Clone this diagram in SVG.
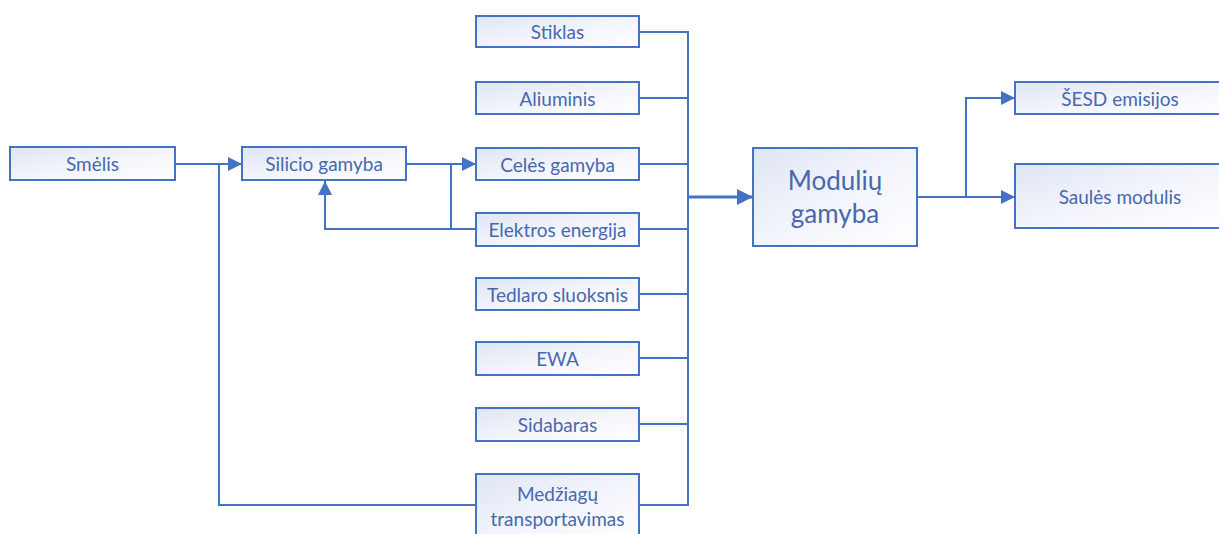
<svg xmlns="http://www.w3.org/2000/svg" width="1219" height="534" viewBox="0 0 1219 534">
  <defs>
    <linearGradient id="boxFill" x1="0" y1="0" x2="1" y2="1">
      <stop offset="0" stop-color="#dfe5f4"/>
      <stop offset="0.55" stop-color="#f4f6fc"/>
      <stop offset="1" stop-color="#ffffff"/>
    </linearGradient>
    <marker id="arrow" viewBox="0 0 14 14" refX="14" refY="7" markerWidth="14" markerHeight="14" markerUnits="userSpaceOnUse" orient="auto">
      <path d="M0,0 L14,7 L0,14 Z" fill="#4472c4"/>
    </marker>
    <marker id="arrowBig" viewBox="0 0 16 16" refX="16" refY="8" markerWidth="16" markerHeight="16" markerUnits="userSpaceOnUse" orient="auto">
      <path d="M0,0 L16,8 L0,16 Z" fill="#4472c4"/>
    </marker>
  </defs>
  <style>
    .box { fill: url(#boxFill); stroke: #4472c4; stroke-width: 2; }
    .lbl { font-family: Lato, "Open Sans", "Liberation Sans", sans-serif; font-size: 19px; fill: #4768ad; text-anchor: middle; dominant-baseline: central; }
    .big { font-size: 26px; }
    .wire { fill: none; stroke: #4472c4; stroke-width: 2; }
    .bus { fill: none; stroke: #4472c4; stroke-width: 3; }
  </style>
  <rect width="1219" height="534" fill="#ffffff"/>

  <!-- connectors -->
  <g id="connectors">
    <!-- Smėlis to Silicio gamyba, with feed from transport -->
    <path class="wire" d="M175,164 H242" marker-end="url(#arrow)"/>
    <path class="wire" d="M219,164 V505 H476"/>
    <!-- Silicio gamyba to Celės gamyba -->
    <path class="wire" d="M406,164 H476" marker-end="url(#arrow)"/>
    <path class="wire" d="M451,164 V229"/>
    <!-- Elektros energija back to Silicio gamyba -->
    <path class="wire" d="M476,229 H325 V181" marker-end="url(#arrow)"/>
    <!-- inputs collected onto the bus -->
    <path class="wire" d="M639,32 H688 V505 H639"/>
    <path class="wire" d="M639,98 H688"/>
    <path class="wire" d="M639,164 H688"/>
    <path class="wire" d="M639,229 H688"/>
    <path class="wire" d="M639,294 H688"/>
    <path class="wire" d="M639,358 H688"/>
    <path class="wire" d="M639,424 H688"/>
    <path class="bus" d="M688,197 H753" marker-end="url(#arrowBig)"/>
    <!-- outputs of module production -->
    <path class="wire" d="M917,197 H1015" marker-end="url(#arrow)"/>
    <path class="wire" d="M966,197 V98 H1015" marker-end="url(#arrow)"/>
  </g>

  <g id="smelis">
    <rect class="box" x="10" y="147" width="165" height="33"/>
    <text class="lbl" x="92.5" y="163.5">Smėlis</text>
  </g>
  <g id="silicio-gamyba">
    <rect class="box" x="242" y="147" width="164" height="33"/>
    <text class="lbl" x="324" y="163.5">Silicio gamyba</text>
  </g>
  <g id="stiklas">
    <rect class="box" x="476" y="16" width="163" height="31"/>
    <text class="lbl" x="557.5" y="31.5">Stiklas</text>
  </g>
  <g id="aliuminis">
    <rect class="box" x="476" y="82" width="163" height="32"/>
    <text class="lbl" x="557.5" y="98">Aliuminis</text>
  </g>
  <g id="celes-gamyba">
    <rect class="box" x="476" y="148" width="163" height="32"/>
    <text class="lbl" x="557.5" y="164">Celės gamyba</text>
  </g>
  <g id="elektros-energija">
    <rect class="box" x="476" y="213" width="163" height="33"/>
    <text class="lbl" x="557.5" y="229.5">Elektros energija</text>
  </g>
  <g id="tedlaro-sluoksnis">
    <rect class="box" x="476" y="278" width="163" height="32"/>
    <text class="lbl" x="557.5" y="294">Tedlaro sluoksnis</text>
  </g>
  <g id="ewa">
    <rect class="box" x="476" y="342" width="163" height="33"/>
    <text class="lbl" x="557.5" y="358.5">EWA</text>
  </g>
  <g id="sidabaras">
    <rect class="box" x="476" y="408" width="163" height="33"/>
    <text class="lbl" x="557.5" y="424.5">Sidabaras</text>
  </g>
  <g id="medziagu-transportavimas">
    <rect class="box" x="476" y="474" width="163" height="70"/>
    <text class="lbl" x="557.5" y="493">Medžiagų</text>
    <text class="lbl" x="557.5" y="518">transportavimas</text>
  </g>
  <g id="moduliu-gamyba">
    <rect class="box" x="753" y="148" width="164" height="98"/>
    <text class="lbl big" x="835" y="180">Modulių</text>
    <text class="lbl big" x="835" y="213">gamyba</text>
  </g>
  <g id="sesd-emisijos">
    <rect class="box" x="1015" y="82" width="215" height="32"/>
    <text class="lbl" x="1120" y="98">ŠESD emisijos</text>
  </g>
  <g id="saules-modulis">
    <rect class="box" x="1015" y="164" width="215" height="64"/>
    <text class="lbl" x="1120" y="196">Saulės modulis</text>
  </g>
</svg>
